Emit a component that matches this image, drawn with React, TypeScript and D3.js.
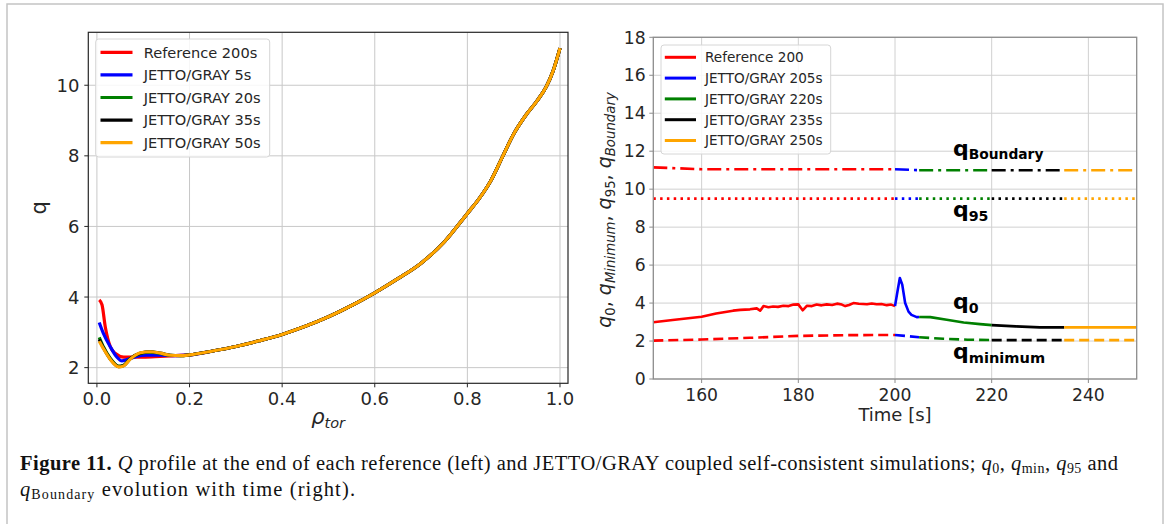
import React from "react";
import * as d3 from "d3";

// ---------- LEFT PANEL DATA (q profile vs rho_tor) ----------
const leftNames = ["Reference 200s", "JETTO/GRAY 5s", "JETTO/GRAY 20s", "JETTO/GRAY 35s", "JETTO/GRAY 50s"];
const rhoTail = [0.2, 0.25, 0.3, 0.35, 0.4, 0.45, 0.5, 0.55, 0.6, 0.65, 0.7, 0.75, 0.8, 0.825, 0.85, 0.875, 0.9, 0.925, 0.95, 0.97, 0.985, 1.0];
const qTail = [2.36, 2.47, 2.6, 2.76, 2.94, 3.17, 3.44, 3.76, 4.12, 4.52, 4.96, 5.56, 6.37, 6.78, 7.28, 7.95, 8.62, 9.13, 9.55, 9.95, 10.4, 11.05];
const rhoHeadRef = [0.005, 0.011, 0.018, 0.029, 0.04, 0.058, 0.079, 0.1, 0.137, 0.17];
const qHeadRef = [3.92, 3.78, 3.16, 2.59, 2.4, 2.3, 2.3, 2.3, 2.32, 2.34];
const rhoHead5 = [0.005, 0.014, 0.029, 0.043, 0.054, 0.065, 0.086, 0.108, 0.137, 0.17];
const qHead5 = [3.28, 2.97, 2.59, 2.3, 2.19, 2.23, 2.32, 2.35, 2.35, 2.34];
const rhoHeadLate = [0.005, 0.014, 0.029, 0.047, 0.058, 0.072, 0.094, 0.115, 0.137, 0.158, 0.18];
const qHead20 = [2.86, 2.59, 2.26, 2.04, 2.07, 2.26, 2.4, 2.44, 2.4, 2.35, 2.34];
const qHead35 = [2.8, 2.56, 2.24, 2.03, 2.06, 2.25, 2.41, 2.45, 2.41, 2.35, 2.34];
const qHead50 = [2.75, 2.54, 2.23, 2.02, 2.05, 2.24, 2.42, 2.45, 2.41, 2.35, 2.34];
const leftXTicks = [0, 0.2, 0.4, 0.6, 0.8, 1.0];
const leftYTicks = [2, 4, 6, 8, 10];

// ---------- RIGHT PANEL DATA (q vs time) ----------
const rightNames = ["Reference 200", "JETTO/GRAY 205s", "JETTO/GRAY 220s", "JETTO/GRAY 235s", "JETTO/GRAY 250s"];
const q0Time = [
  [150, 154, 160, 163, 166.5, 168, 170, 171.4, 172.1, 172.8, 173.8, 174.8, 175.8, 176.9, 178, 179, 180, 180.9, 181.8, 182.8, 183.8, 184.8, 185.9, 187, 188, 189, 189.7, 190.5, 191.4, 192.5, 193.4, 194.2, 195.2, 196.2, 197.2, 198.3, 199.2, 200],
  [200, 200.5, 201, 201.5, 202.1, 202.8, 203.4, 204.5, 205],
  [205, 207.3, 210.7, 214.2, 217.6, 220],
  [220, 225, 230, 235],
  [235, 250],
];
const q0Val = [
  [2.99, 3.11, 3.28, 3.45, 3.6, 3.64, 3.67, 3.72, 3.6, 3.84, 3.78, 3.82, 3.8, 3.86, 3.84, 3.92, 3.93, 3.62, 3.86, 3.84, 3.92, 3.88, 3.93, 3.9, 3.97, 3.92, 3.84, 3.9, 4.0, 3.96, 3.95, 3.94, 3.98, 3.94, 3.95, 3.89, 3.92, 3.84],
  [3.84, 4.6, 5.32, 4.97, 4.0, 3.55, 3.38, 3.26, 3.27],
  [3.27, 3.26, 3.12, 2.98, 2.89, 2.84],
  [2.84, 2.77, 2.72, 2.72],
  [2.72, 2.72],
];
const qMinTime = [
  [150, 160, 170, 180, 190, 200],
  [200, 205],
  [205, 210, 215, 220],
  [220, 235],
  [235, 250],
];
const qMinVal = [
  [2.02, 2.08, 2.17, 2.27, 2.31, 2.32],
  [2.32, 2.2],
  [2.2, 2.12, 2.07, 2.05],
  [2.05, 2.05],
  [2.05, 2.05],
];
const q95Time = [[150, 200], [200, 205], [205, 220], [220, 235], [235, 250]];
const q95Val = [[9.5, 9.5], [9.5, 9.5], [9.5, 9.5], [9.5, 9.5], [9.5, 9.5]];
const qBndTime = [[150, 155, 160, 200], [200, 205], [205, 220], [220, 235], [235, 250]];
const qBndVal = [[11.15, 11.1, 11.05, 11.05], [11.05, 11.0], [11.0, 11.0], [11.0, 11.0], [11.0, 11.0]];
const rightXTicks = [160, 180, 200, 220, 240];
const rightYTicks = [0, 2, 4, 6, 8, 10, 12, 14, 16, 18];

const COLORS = ["#ff0000", "#0000ff", "#008000", "#000000", "#ffa500"];
const FONT = "DejaVu Sans, Verdana, sans-serif";

function zip(xs: number[], ys: number[]) {
  return xs.map((x, i) => [x, ys[i]] as [number, number]);
}

export default function App() {
  const xL = d3.scaleLinear().domain([-0.0186, 1.0173]).range([88.3, 568]);
  const yL = d3.scaleLinear().domain([1.556, 11.5]).range([383.3, 32.3]);
  const xR = d3.scaleLinear().domain([150, 250]).range([653.3, 1136.7]);
  const yR = d3.scaleLinear().domain([0, 18]).range([379, 37.3]);

  const lineL = d3
    .line<[number, number]>()
    .x((d) => xL(d[0]))
    .y((d) => yL(d[1]))
    .curve(d3.curveMonotoneX);
  const lineR = d3
    .line<[number, number]>()
    .x((d) => xR(d[0]))
    .y((d) => yR(d[1]))
    .curve(d3.curveLinear);

  const leftSeries = [
    zip(rhoHeadRef.concat(rhoTail), qHeadRef.concat(qTail)),
    zip(rhoHead5.concat(rhoTail), qHead5.concat(qTail)),
    zip(rhoHeadLate.concat(rhoTail), qHead20.concat(qTail)),
    zip(rhoHeadLate.concat(rhoTail), qHead35.concat(qTail)),
    zip(rhoHeadLate.concat(rhoTail), qHead50.concat(qTail)),
  ];

  const [lx0, lx1] = xL.range();
  const [ly0, ly1] = yL.range();
  const [rx0, rx1] = xR.range();
  const [ry0, ry1] = yR.range();
  const f1 = d3.format(".1f");

  const rightGroups = [
    { t: qBndTime, v: qBndVal, dash: "14,5,3,5" },
    { t: q95Time, v: q95Val, dash: "2.5,4.3" },
    { t: q0Time, v: q0Val, dash: "" },
    { t: qMinTime, v: qMinVal, dash: "10,5" },
  ];

  const capSize = 20.5;
  const subSize = 14;

  return (
    <svg
      width={1168}
      height={524}
      style={{ position: "absolute", left: 0, top: 0, background: "#fff" }}
      fontFamily={FONT}
    >
      <defs>
        <clipPath id="clipL">
          <rect x={lx0} y={ly1} width={lx1 - lx0} height={ly0 - ly1} />
        </clipPath>
        <clipPath id="clipR">
          <rect x={rx0} y={ry1} width={rx1 - rx0} height={ry0 - ry1} />
        </clipPath>
      </defs>
      {/* outer frame */}
      <rect x={7} y={4} width={1156} height={540} fill="none" stroke="#c4c4c4" strokeWidth={1.5} />

      {/* ===== LEFT PANEL ===== */}
      <g>
        {leftXTicks.map((t) => (
          <line key={"lgx" + t} x1={xL(t)} x2={xL(t)} y1={ly1} y2={ly0} stroke="#c8c8c8" strokeWidth={1} />
        ))}
        {leftYTicks.map((t) => (
          <line key={"lgy" + t} x1={lx0} x2={lx1} y1={yL(t)} y2={yL(t)} stroke="#c8c8c8" strokeWidth={1} />
        ))}
        <g clipPath="url(#clipL)">
          {leftSeries.map((s, i) => (
            <path key={"ls" + i} d={lineL(s) || ""} fill="none" stroke={COLORS[i]} strokeWidth={3.2} strokeLinejoin="round" />
          ))}
        </g>
        <rect x={lx0} y={ly1} width={lx1 - lx0} height={ly0 - ly1} fill="none" stroke="#262626" strokeWidth={1.2} />
        {leftXTicks.map((t) => (
          <g key={"ltx" + t}>
            <line x1={xL(t)} x2={xL(t)} y1={ly0} y2={ly0 + 4} stroke="#262626" strokeWidth={1} />
            <text x={xL(t)} y={405} textAnchor="middle" fontSize={18} fill="#262626">
              {f1(t)}
            </text>
          </g>
        ))}
        {leftYTicks.map((t) => (
          <g key={"lty" + t}>
            <line x1={lx0 - 4} x2={lx0} y1={yL(t)} y2={yL(t)} stroke="#262626" strokeWidth={1} />
            <text x={79.5} y={yL(t) + 6.5} textAnchor="end" fontSize={18} fill="#262626">
              {t}
            </text>
          </g>
        ))}
        {/* axis labels */}
        <text transform={`translate(46,${(ly0 + ly1) / 2}) rotate(-90)`} textAnchor="middle" fontSize={21} fill="#262626">
          q
        </text>
        <text x={(lx0 + lx1) / 2} y={424} textAnchor="middle" fill="#262626" fontStyle="italic">
          <tspan fontSize={21}>ρ</tspan>
          <tspan fontSize={14.5} dy={4}>tor</tspan>
        </text>
        {/* legend */}
        <rect x={95.7} y={39} width={174} height={118} rx={3} fill="#fff" fillOpacity={0.85} stroke="#d6d6d6" strokeWidth={1} />
        {leftNames.map((n, i) => {
          const y = 52.3 + i * 22.6;
          return (
            <g key={"ll" + i}>
              <line x1={100.5} x2={132.5} y1={y} y2={y} stroke={COLORS[i]} strokeWidth={3.2} />
              <text x={143.7} y={y + 5.2} fontSize={14.6} fill="#262626">
                {n}
              </text>
            </g>
          );
        })}
      </g>

      {/* ===== RIGHT PANEL ===== */}
      <g>
        {rightXTicks.map((t) => (
          <line key={"rgx" + t} x1={xR(t)} x2={xR(t)} y1={ry1} y2={ry0} stroke="#d0d0d0" strokeWidth={1} />
        ))}
        {rightYTicks.map((t) => (
          <line key={"rgy" + t} x1={rx0} x2={rx1} y1={yR(t)} y2={yR(t)} stroke="#d0d0d0" strokeWidth={1} />
        ))}
        <g clipPath="url(#clipR)">
          {rightGroups.map((g, gi) =>
            g.t.map((ts, i) => (
              <path
                key={"rs" + gi + "-" + i}
                d={lineR(zip(ts, g.v[i])) || ""}
                fill="none"
                stroke={COLORS[i]}
                strokeWidth={2.6}
                strokeDasharray={g.dash || undefined}
                strokeLinejoin="round"
              />
            ))
          )}
        </g>
        <rect x={rx0} y={ry1} width={rx1 - rx0} height={ry0 - ry1} fill="none" stroke="#8c8c8c" strokeWidth={1.3} />
        {rightXTicks.map((t) => (
          <g key={"rtx" + t}>
            <line x1={xR(t)} x2={xR(t)} y1={ry0} y2={ry0 + 4} stroke="#8c8c8c" strokeWidth={1} />
            <text x={xR(t)} y={401} textAnchor="middle" fontSize={17.2} fill="#262626">
              {t}
            </text>
          </g>
        ))}
        {rightYTicks.map((t) => (
          <g key={"rty" + t}>
            <line x1={rx0 - 4} x2={rx0} y1={yR(t)} y2={yR(t)} stroke="#8c8c8c" strokeWidth={1} />
            <text x={645.7} y={yR(t) + 6.2} textAnchor="end" fontSize={17.2} fill="#262626">
              {t}
            </text>
          </g>
        ))}
        {/* axis labels */}
        <text x={(rx0 + rx1) / 2} y={421} textAnchor="middle" fontSize={18} fill="#262626">
          Time [s]
        </text>
        <text transform={`translate(611,210) rotate(-90)`} textAnchor="middle" fontSize={19} fill="#262626">
          <tspan fontStyle="italic">q</tspan>
          <tspan fontSize={13.3} dy={3.5}>0</tspan>
          <tspan dy={-3.5}>, </tspan>
          <tspan fontStyle="italic">q</tspan>
          <tspan fontSize={13.3} dy={3.5} fontStyle="italic">Minimum</tspan>
          <tspan dy={-3.5}>, </tspan>
          <tspan fontStyle="italic">q</tspan>
          <tspan fontSize={13.3} dy={3.5}>95</tspan>
          <tspan dy={-3.5}>, </tspan>
          <tspan fontStyle="italic">q</tspan>
          <tspan fontSize={13.3} dy={3.5} fontStyle="italic">Boundary</tspan>
        </text>
        {/* annotations */}
        <text x={953} y={155.5} fontWeight="bold" fontSize={22} fill="#000">
          q<tspan fontSize={13.8} dy={3}>Boundary</tspan>
        </text>
        <text x={953} y={216.5} fontWeight="bold" fontSize={22} fill="#000">
          q<tspan fontSize={14.2} dy={4.5}>95</tspan>
        </text>
        <text x={953} y={309} fontWeight="bold" fontSize={22} fill="#000">
          q<tspan fontSize={14.2} dy={4}>0</tspan>
        </text>
        <text x={953} y={359} fontWeight="bold" fontSize={22} fill="#000">
          q<tspan fontSize={14.6} dy={3.5}>minimum</tspan>
        </text>
        {/* legend */}
        <rect x={661} y={45} width={169.7} height={109} rx={3} fill="#fff" fillOpacity={0.85} stroke="#d6d6d6" strokeWidth={1} />
        {rightNames.map((n, i) => {
          const y = 57.3 + i * 20.8;
          return (
            <g key={"rl" + i}>
              <line x1={664.8} x2={696} y1={y} y2={y} stroke={COLORS[i]} strokeWidth={3} />
              <text x={705} y={y + 4.9} fontSize={13.6} fill="#262626">
                {n}
              </text>
            </g>
          );
        })}
      </g>

      {/* ===== CAPTION ===== */}
      <g fontFamily="Liberation Serif, Times New Roman, serif" fill="#111">
        <text x={20} y={470} fontSize={capSize} textLength={1098} lengthAdjust="spacing">
          <tspan fontWeight="bold">Figure 11.</tspan>
          <tspan> </tspan>
          <tspan fontStyle="italic">Q</tspan>
          <tspan>{" profile at the end of each reference (left) and JETTO/GRAY coupled self-consistent simulations; "}</tspan>
          <tspan fontStyle="italic">q</tspan>
          <tspan fontSize={subSize} dy={3}>0</tspan>
          <tspan dy={-3}>{", "}</tspan>
          <tspan fontStyle="italic">q</tspan>
          <tspan fontSize={subSize} dy={3}>min</tspan>
          <tspan dy={-3}>{", "}</tspan>
          <tspan fontStyle="italic">q</tspan>
          <tspan fontSize={subSize} dy={3}>95</tspan>
          <tspan dy={-3}>{" and"}</tspan>
        </text>
        <text x={20} y={496} fontSize={capSize} textLength={335} lengthAdjust="spacing">
          <tspan fontStyle="italic">q</tspan>
          <tspan fontSize={subSize} dy={3}>Boundary</tspan>
          <tspan dy={-3}>{" evolution with time (right)."}</tspan>
        </text>
      </g>
    </svg>
  );
}
